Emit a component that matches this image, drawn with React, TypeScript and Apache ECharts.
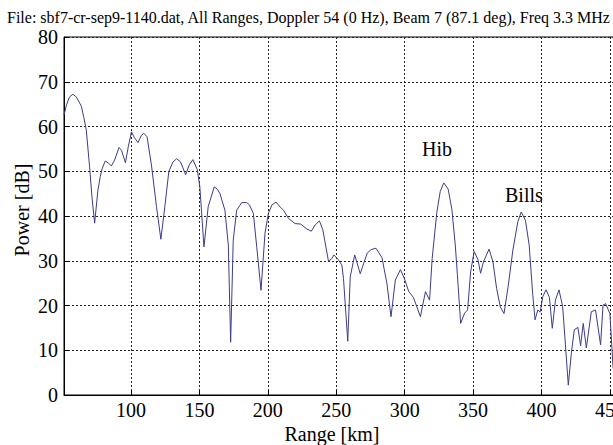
import React, { useEffect, useRef } from "react";
import * as echarts from "echarts";

const titleText =
  "File: sbf7-cr-sep9-1140.dat, All Ranges, Doppler 54 (0 Hz), Beam 7 (87.1 deg), Freq 3.3 MHz";
const xAxisName = "Range [km]";
const yAxisName = "Power [dB]";
const annotations = ["Hib", "Bills"];

const rangeKm = [
  51, 53, 55, 57.5, 60, 62, 63.7, 65.5, 67.3, 69.7, 71.5, 73.4, 75.8, 77.5, 79, 81.2, 83.5,
  85.6, 88, 91.2, 93, 95.9, 98, 100.3, 102.5, 105.1, 107.5, 109.3, 111.7, 114.9, 118.6, 121.8,
  124.7, 127.6, 130.5, 133.3, 136.2, 139.9, 142.5, 145.2, 148.4, 150.3, 153.3, 156.4, 160.8,
  163, 165, 168.6, 171.1, 172.8, 174.7, 177.2, 180.9, 184.5, 186.5, 189.4, 191.9, 195, 197.9,
  200.4, 203, 206, 209, 211.4, 215, 219.9, 224, 228.5, 231.7, 234.6, 237.7, 240.2, 244.3,
  246.8, 248.3, 251.6, 254.1, 255.3, 258.4, 260.2, 263.5, 267.5, 272.6, 275.5, 279, 283.4,
  287, 290, 293.2, 296.9, 299.8, 303, 306.4, 311.5, 315.2, 318.2, 320.1, 323.5, 326, 328.6,
  331.8, 334.5, 337, 338.5, 340.9, 343.8, 346, 348.2, 350.8, 353.6, 355.5, 357.6, 361.7,
  364.5, 367.2, 369.9, 372.6, 375.6, 379.1, 382.7, 385.2, 388.3, 391, 393.6, 395.3, 397.3,
  399, 401, 403.3, 405.8, 407.9, 410.2, 412.8, 415.5, 417.5, 419.6, 421.8, 424, 426.6, 428.6,
  430.5, 432.8, 436.4, 439.5, 443.2, 445, 446.9, 450, 452.3, 454,
];

const powerDb = [
  62.6, 65, 66.6, 67.2, 66.6, 65.5, 64.5, 62, 59.2, 51, 44, 38.4, 45.8, 48.8, 50.7, 52.3, 51.8,
  51.2, 52.5, 55.3, 54.7, 51.9, 55.5, 58.8, 57.5, 56.4, 58, 58.5, 57.7, 51.4, 42.1, 34.8,
  42.1, 49.9, 52, 52.8, 52.1, 49.2, 51.4, 52.6, 50.4, 46.5, 33.1, 42.1, 46.5,
  46, 45, 41.3, 33.5, 11.8, 34.6, 41.3, 43, 43, 42.5, 40.6, 33, 23.4, 36.1,
  40.6, 42.5, 43.1, 42, 41.3, 39.5, 38.3, 38.2, 37.1, 36.6, 38, 38.9, 36.9, 29.9,
  30.5, 31.3, 30.2, 29, 26, 12, 26.4, 31.3, 27.1, 31.7, 32.5, 32.8, 30.7,
  25, 17.5, 25.7, 28, 26, 23.1, 21.8, 17.5, 23.1, 21.2, 30.5, 40.8, 45.5, 47.4,
  46, 41.5, 33.5, 27, 16, 18.3, 19, 27.5, 32.1, 30.2, 27.2, 29.8, 32.6,
  29.8, 23.8, 19.7, 18.2, 24.2, 32.4, 38.7, 40.9, 39, 33.5, 22.5, 16.8, 19,
  18.5, 22, 23.5, 21.8, 14.9, 21.2, 23.5, 19.7, 11.2, 2.2, 9.3, 14.6, 15.1, 11,
  16, 10.5, 18.6, 19, 11.2, 20.1, 20.4, 18.2, 6.3, 3,
];

const xTickValues = [100, 150, 200, 250, 300, 350, 400, 450];
const yTickValues = [0, 10, 20, 30, 40, 50, 60, 70, 80];

const serif = "'Liberation Serif', 'Times New Roman', serif";

export default function App() {
  const ref = useRef<HTMLDivElement>(null);

  useEffect(() => {
    if (!ref.current) return;
    const chart = echarts.init(ref.current, null, { renderer: "svg" });
    const data = rangeKm.map((x, i) => [x, powerDb[i]]);
    const gridLine = { show: true, lineStyle: { color: "#222", type: [2, 2] as any, width: 1 } };
    chart.setOption({
      animation: false,
      backgroundColor: "#fff",
      grid: {
        left: 64,
        right: -1,
        top: 37,
        bottom: 50,
        show: true,
        borderColor: "#000",
        borderWidth: 1,
        backgroundColor: "transparent",
        containLabel: false,
        outerBoundsMode: "none",
      },
      xAxis: {
        type: "value",
        min: 51,
        max: 453,
        splitNumber: 8,
        axisLine: { show: true, lineStyle: { color: "#000", width: 1 } },
        axisTick: { show: true, inside: true, length: 5, lineStyle: { color: "#000" } },
        axisLabel: {
          color: "#000",
          fontFamily: serif,
          fontSize: 20,
          margin: 5,
          showMinLabel: false,
          showMaxLabel: false,
          hideOverlap: false,
          formatter: (v: number) => (xTickValues.includes(v) ? String(v) : ""),
        },
        splitLine: gridLine,
      },
      yAxis: {
        type: "value",
        min: 0,
        max: 80,
        interval: 10,
        axisLine: { show: true, lineStyle: { color: "#000", width: 1 } },
        axisTick: { show: true, inside: true, length: 5, lineStyle: { color: "#000" } },
        axisLabel: {
          color: "#000",
          fontFamily: serif,
          fontSize: 20,
          margin: 6,
          formatter: (v: number) => (yTickValues.includes(v) ? String(v) : ""),
        },
        splitLine: gridLine,
      },
      series: [
        {
          type: "line",
          data,
          showSymbol: false,
          symbol: "none",
          lineStyle: { color: "#3c3c8c", width: 1 },
          clip: true,
        },
      ],
      graphic: [
        {
          type: "text",
          left: 7,
          top: 9,
          style: { text: titleText, font: `16px ${serif}`, fill: "#000" },
        },
        {
          type: "text",
          x: 332,
          y: 434,
          style: {
            text: xAxisName,
            font: `20px ${serif}`,
            fill: "#000",
            align: "center",
            verticalAlign: "middle",
          },
        },
        {
          type: "text",
          x: 22,
          y: 210,
          rotation: Math.PI / 2,
          style: {
            text: yAxisName,
            font: `20px ${serif}`,
            fill: "#000",
            align: "center",
            verticalAlign: "middle",
          },
        },
        {
          type: "text",
          x: 422,
          y: 149,
          style: {
            text: annotations[0],
            font: `20px ${serif}`,
            fill: "#000",
            align: "left",
            verticalAlign: "middle",
          },
        },
        {
          type: "text",
          x: 505,
          y: 195,
          style: {
            text: annotations[1],
            font: `20px ${serif}`,
            fill: "#000",
            align: "left",
            verticalAlign: "middle",
          },
        },
      ],
    });
    return () => chart.dispose();
  }, []);

  return (
    <div
      ref={ref}
      style={{ position: "fixed", left: 0, top: 0, width: 613, height: 445, background: "#fff" }}
    />
  );
}
